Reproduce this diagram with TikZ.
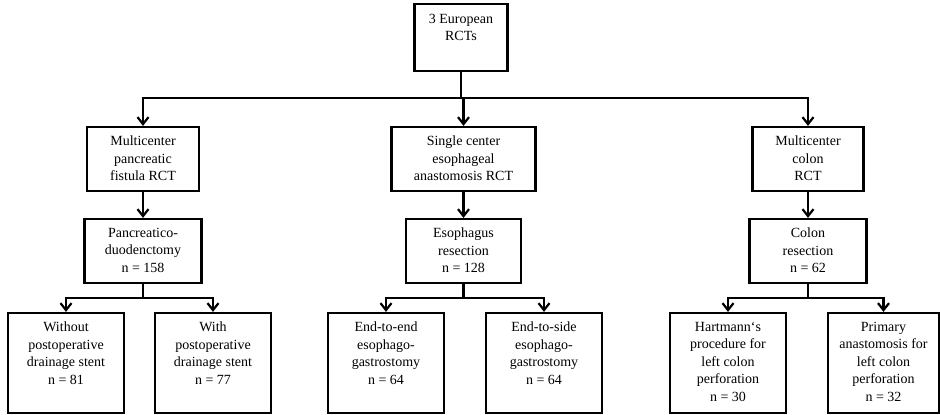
\documentclass[tikz,border=0pt]{standalone}
\usepackage{fontspec}
\setmainfont{Liberation Serif}
\newfontfamily\tnrfont{Liberation Serif}
\usetikzlibrary{arrows.meta}
\tikzset{
  box/.style={draw, line width=2.2pt, rectangle, inner sep=0pt, minimum height=64pt},
  boxtext/.style={anchor=north, align=center, inner sep=0pt, font=\tnrfont\fontsize{14}{17.5}\selectfont},
  conn/.style={line width=2.4pt},
  arr/.style={line width=2.4pt, -{Straight Barb[length=7pt,width=11pt,line width=2.2pt]}}
}
\begin{document}
\begin{tikzpicture}[x=1pt,y=-1pt]
\useasboundingbox (0,0) rectangle (940,415);
% boxes
\node[box, minimum width=93pt, minimum height=67pt] (top) at (461,37.5) {};
\node[box, minimum width=112pt] (l1) at (143,159) {};
\node[box, minimum width=144pt] (m1) at (463.5,159) {};
\node[box, minimum width=111pt] (r1) at (808,159) {};
\node[box, minimum width=117pt] (l2) at (143,251) {};
\node[box, minimum width=115pt] (m2) at (463.5,251) {};
\node[box, minimum width=117pt] (r2) at (808,251) {};
\node[box, minimum width=116pt, minimum height=100pt] (ll) at (66,363) {};
\node[box, minimum width=116pt, minimum height=100pt] (lr) at (213,363) {};
\node[box, minimum width=116pt, minimum height=100pt] (ml) at (386,363) {};
\node[box, minimum width=116pt, minimum height=100pt] (mr) at (544,363) {};
\node[box, minimum width=116pt, minimum height=100pt] (rl) at (728,363) {};
\node[box, minimum width=111pt, minimum height=100pt] (rr) at (883.5,363) {};
% texts
\node[boxtext] (ttop) at ([yshift=-11pt]top.north) {3 European\\RCTs};
\node[boxtext] (tl1) at ([yshift=-10pt]l1.north) {Multicenter\\pancreatic\\fistula RCT};
\node[boxtext] (tm1) at ([yshift=-10pt]m1.north) {Single center\\esophageal\\anastomosis RCT};
\node[boxtext] (tr1) at ([yshift=-10pt]r1.north) {Multicenter\\colon\\RCT};
\node[boxtext] (tl2) at ([yshift=-10pt]l2.north) {Pancreatico-\\duodenctomy\\n = 158};
\node[boxtext] (tm2) at ([yshift=-10pt]m2.north) {Esophagus\\resection\\n = 128};
\node[boxtext] (tr2) at ([yshift=-10pt]r2.north) {Colon\\resection\\n = 62};
\node[boxtext] (tll) at ([yshift=-10pt]ll.north) {Without\\postoperative\\drainage stent\\n = 81};
\node[boxtext] (tlr) at ([yshift=-10pt]lr.north) {With\\postoperative\\drainage stent\\n = 77};
\node[boxtext] (tml) at ([yshift=-10pt]ml.north) {End-to-end\\esophago-\\gastrostomy\\n = 64};
\node[boxtext] (tmr) at ([yshift=-10pt]mr.north) {End-to-side\\esophago-\\gastrostomy\\n = 64};
\node[boxtext] (trl) at ([yshift=-10pt]rl.north) {Hartmann‘s\\procedure for\\left colon\\perforation\\n = 30};
\node[boxtext] (trr) at ([yshift=-10pt]rr.north) {Primary\\anastomosis for\\left colon\\perforation\\n = 32};
% junctions
\coordinate (j0) at (461,98);
\coordinate (jl) at (143,298);
\coordinate (jm) at (463.5,298);
\coordinate (jr) at (808,298);
% connectors
\draw[conn] (top.south) -- (j0);
\draw[arr] (j0) -| (l1.north);
\draw[arr] (j0) -| (m1.north);
\draw[arr] (j0) -| (r1.north);
\draw[arr] (l1.south) -- (l2.north);
\draw[arr] (m1.south) -- (m2.north);
\draw[arr] (r1.south) -- (r2.north);
\draw[conn] (l2.south) -- (jl);
\draw[arr] (jl) -| (ll.north);
\draw[arr] (jl) -| (lr.north);
\draw[conn] (m2.south) -- (jm);
\draw[arr] (jm) -| (ml.north);
\draw[arr] (jm) -| (mr.north);
\draw[conn] (r2.south) -- (jr);
\draw[arr] (jr) -| (rl.north);
\draw[arr] (jr) -| (rr.north);
\end{tikzpicture}
\end{document}
